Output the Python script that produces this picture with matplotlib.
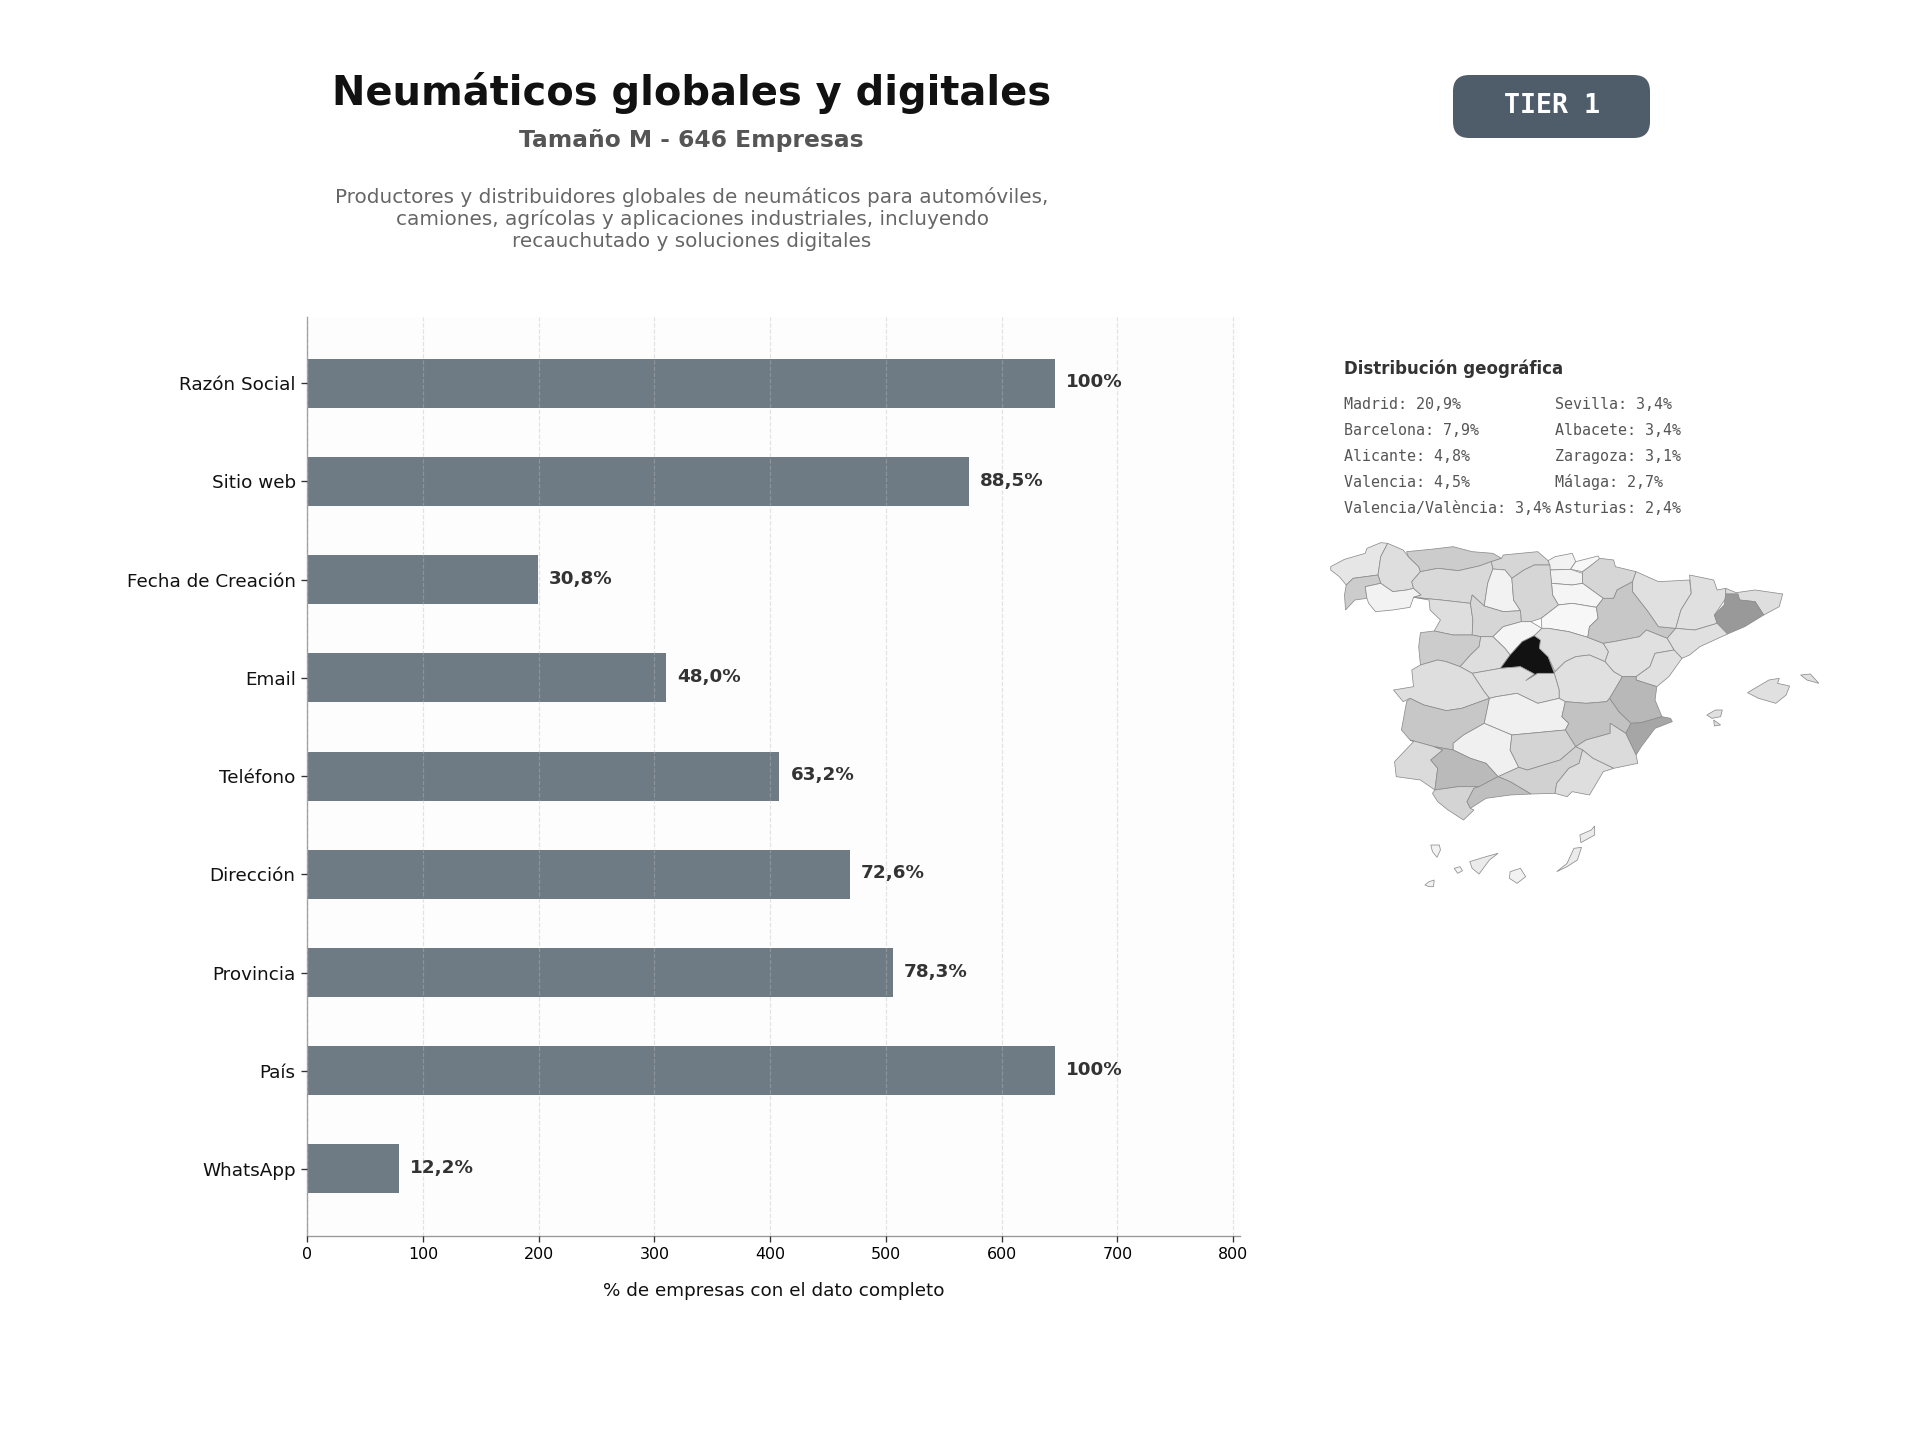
import matplotlib
matplotlib.use('Agg')
import matplotlib.pyplot as plt
from matplotlib.patches import FancyBboxPatch, Polygon

# bar data
campos = ['Razón Social', 'Sitio web', 'Fecha de Creación', 'Email', 'Teléfono',
          'Dirección', 'Provincia', 'País', 'WhatsApp']
empresas = [646, 572, 199, 310, 408, 469, 506, 646, 79]
etiquetas = ['100%', '88,5%', '30,8%', '48,0%', '63,2%', '72,6%', '78,3%', '100%', '12,2%']
xticks = [0, 100, 200, 300, 400, 500, 600, 700, 800]

# geographic list
geo_col1 = ['Madrid: 20,9%', 'Barcelona: 7,9%', 'Alicante: 4,8%', 'Valencia: 4,5%', 'Valencia/València: 3,4%']
geo_col2 = ['Sevilla: 3,4%', 'Albacete: 3,4%', 'Zaragoza: 3,1%', 'Málaga: 2,7%', 'Asturias: 2,4%']

# province outlines: name -> (grey level, outline)
provincias = {
    'A Coruña': (.90, [(60,140),(100,118),(160,100),(165,85),(205,68),(225,70),(205,110),(197,165),(125,175),(105,195),(85,170),(60,150)]),
    'Lugo': (.87, [(225,70),(270,90),(285,110),(315,140),(320,155),(295,185),(300,205),(280,210),(240,215),(205,190),(197,165),(205,110)]),
    'Pontevedra': (.80, [(105,195),(125,175),(197,165),(205,190),(160,200),(165,235),(130,240),(103,270),(100,225)]),
    'Ourense': (.95, [(160,200),(205,190),(240,215),(280,210),(300,205),(322,225),(300,232),(290,262),(240,270),(190,275),(170,250),(165,235)]),
    'Asturias': (.80, [(280,95),(350,88),(415,80),(470,95),(530,100),(555,115),(525,125),(490,138),(430,152),(370,145),(320,155),(315,140),(285,110)]),
    'Cantabria': (.84, [(525,125),(555,115),(560,105),(660,95),(690,122),(695,135),(650,135),(620,150),(585,175),(565,150),(530,147)]),
    'Bizkaia': (.95, [(690,122),(710,110),(760,100),(770,125),(755,148),(695,150),(695,135)]),
    'Gipuzkoa': (.97, [(770,125),(835,108),(840,118),(810,140),(790,155),(755,148)]),
    'Araba': (.95, [(695,150),(755,148),(790,160),(790,190),(760,195),(700,190)]),
    'Navarra': (.84, [(790,155),(810,140),(840,115),(880,120),(885,140),(945,155),(935,185),(890,210),(880,235),(850,235),(790,190),(790,160)]),
    'La Rioja': (.96, [(700,190),(760,195),(790,190),(850,235),(830,262),(760,250),(720,255),(703,225)]),
    'León': (.85, [(320,155),(370,145),(430,152),(490,138),(525,125),(530,147),(515,190),(505,258),(470,225),(465,250),(380,240),(300,232),(322,225),(300,205),(295,185)]),
    'Palencia': (.95, [(530,147),(565,150),(585,175),(590,240),(610,272),(560,275),(505,258),(515,190)]),
    'Burgos': (.84, [(585,175),(620,150),(650,135),(695,135),(700,190),(703,225),(720,255),(670,295),(640,305),(612,305),(610,272),(590,240)]),
    'Zamora': (.87, [(300,232),(380,240),(465,250),(472,300),(470,345),(415,345),(360,333),(378,300),(348,270),(345,240)]),
    'Valladolid': (.84, [(470,225),(505,258),(560,275),(610,272),(612,305),(560,320),(530,350),(495,350),(470,345),(472,300),(465,250)]),
    'Segovia': (.96, [(530,350),(560,320),(612,305),(640,305),(672,325),(650,347),(615,365),(580,405),(565,385)]),
    'Soria': (.97, [(670,295),(720,255),(760,250),(830,262),(835,295),(810,320),(805,352),(750,335),(690,325),(672,325)]),
    'Salamanca': (.80, [(320,338),(360,333),(415,345),(470,345),(495,350),(490,380),(465,405),(435,440),(395,425),(370,420),(320,435),(315,380)]),
    'Ávila': (.87, [(495,350),(530,350),(565,385),(580,405),(552,445),(470,460),(435,440),(465,405),(490,380)]),
    'Madrid': (.07, [(650,347),(668,360),(665,385),(690,410),(708,460),(660,460),(625,482),(650,462),(610,440),(552,445),(580,405),(615,365)]),
    'Guadalajara': (.87, [(672,325),(690,325),(750,335),(805,352),(850,370),(865,395),(855,425),(810,405),(770,410),(740,425),(710,455),(690,410),(665,385),(668,360),(650,347)]),
    'Zaragoza': (.78, [(880,235),(890,210),(935,185),(935,215),(980,275),(1010,320),(1060,325),(1035,355),(975,330),(955,350),(880,365),(850,370),(805,352),(810,320),(835,295),(830,262),(850,235)]),
    'Huesca': (.88, [(945,155),(1010,185),(1100,180),(1105,220),(1075,270),(1060,325),(1010,320),(980,275),(935,215),(935,185)]),
    'Lleida': (.88, [(1100,165),(1170,180),(1180,210),(1205,205),(1205,235),(1172,285),(1180,310),(1115,330),(1060,325),(1075,270),(1105,220)]),
    'Girona': (.87, [(1205,205),(1235,218),(1290,210),(1370,222),(1360,260),(1315,285),(1290,245),(1245,240),(1240,222),(1205,222)]),
    'Barcelona': (.60, [(1205,222),(1240,222),(1245,240),(1290,245),(1315,285),(1260,320),(1210,342),(1180,310),(1172,285),(1200,255)]),
    'Tarragona': (.88, [(1180,310),(1210,342),(1130,380),(1100,405),(1078,415),(1055,390),(1035,355),(1060,325),(1115,330)]),
    'Teruel': (.88, [(850,370),(880,365),(955,350),(975,330),(1035,355),(1055,390),(1000,400),(985,440),(945,470),(905,470),(880,455),(855,425),(865,395)]),
    'Castellón': (.88, [(1000,400),(1055,390),(1078,415),(1040,470),(1005,500),(945,480),(945,470),(985,440)]),
    'Valencia': (.72, [(905,470),(945,470),(945,480),(1005,500),(1000,540),(1020,590),(960,608),(930,610),(895,575),(868,535)]),
    'Alicante': (.65, [(930,610),(960,608),(1020,590),(1045,595),(1050,605),(1000,625),(960,680),(945,705),(915,640)]),
    'Cuenca': (.88, [(710,455),(740,425),(770,410),(810,405),(855,425),(880,455),(905,470),(868,535),(860,545),(800,550),(740,545),(722,535),(722,510),(708,460)]),
    'Toledo': (.88, [(470,460),(552,445),(610,440),(650,462),(625,482),(660,460),(708,460),(722,510),(722,535),(660,550),(600,520),(540,530),(520,535),(505,515)]),
    'Cáceres': (.87, [(320,435),(370,420),(395,425),(435,440),(470,460),(505,515),(520,535),(440,565),(395,572),(330,555),(290,535),(270,545),(242,510),(300,500),(295,450)]),
    'Badajoz': (.78, [(280,545),(290,535),(330,555),(395,572),(440,565),(520,535),(505,610),(445,645),(415,670),(415,690),(360,680),(290,660),(265,630)]),
    'Ciudad Real': (.94, [(520,535),(540,530),(600,520),(660,550),(722,535),(740,545),(730,590),(750,610),(740,630),(585,645),(505,610)]),
    'Albacete': (.76, [(740,545),(800,550),(860,545),(868,535),(895,575),(930,610),(915,640),(870,610),(870,640),(800,660),(770,680),(740,630),(750,610),(730,590)]),
    'Murcia': (.86, [(870,640),(870,610),(915,640),(945,705),(950,730),(880,745),(820,715),(790,690),(770,680),(800,660)]),
    'Córdoba': (.94, [(445,645),(505,610),(585,645),(580,690),(605,742),(545,770),(510,730),(465,715),(415,690),(415,670)]),
    'Jaén': (.83, [(585,645),(740,630),(770,680),(725,720),(630,750),(605,742),(580,690)]),
    'Granada': (.82, [(605,742),(630,750),(725,720),(770,680),(790,690),(780,730),(750,745),(715,790),(710,820),(640,822),(580,785),(545,770)]),
    'Almería': (.87, [(790,690),(820,715),(880,745),(850,755),(810,825),(760,815),(745,830),(710,820),(715,790),(750,745),(780,730)]),
    'Huelva': (.86, [(290,660),(360,680),(385,690),(350,720),(370,745),(362,810),(320,780),(250,770),(245,725),(300,665)]),
    'Sevilla': (.73, [(360,680),(415,690),(465,715),(510,730),(545,770),(490,800),(430,800),(362,810),(370,745),(350,720),(385,690)]),
    'Cádiz': (.83, [(362,810),(430,800),(490,800),(475,805),(455,845),(465,865),(475,870),(445,900),(400,870),(370,845),(355,820)]),
    'Málaga': (.75, [(490,800),(545,770),(580,785),(640,822),(580,825),(510,835),(465,865),(455,845),(475,805)]),
    'Mallorca': (.88, [(1268,518),(1330,480),(1360,475),(1355,490),(1390,498),(1380,525),(1350,550),(1300,535)]),
    'Menorca': (.88, [(1422,465),(1450,462),(1475,490),(1440,480)]),
    'Ibiza': (.88, [(1150,585),(1175,570),(1195,570),(1190,590),(1165,595)]),
    'Formentera': (.88, [(1170,600),(1190,615),(1172,618)]),
    'La Palma': (.95, [(350,975),(375,975),(378,990),(368,1012),(355,995)]),
    'Tenerife': (.92, [(463,1025),(510,1010),(545,1000),(520,1020),(490,1062),(470,1045)]),
    'La Gomera': (.95, [(418,1045),(435,1040),(442,1052),(428,1060)]),
    'Gran Canaria': (.95, [(580,1055),(610,1045),(625,1070),(600,1090),(578,1075)]),
    'Fuerteventura': (.92, [(715,1055),(745,1030),(765,985),(787,982),(775,1020),(745,1040)]),
    'Lanzarote': (.92, [(782,945),(815,930),(825,918),(825,945),(785,968)]),
    'El Hierro': (.95, [(333,1095),(345,1085),(360,1080),(358,1100),(345,1100)]),
}

W, H = 1920, 1440
def fx(px):
    return px / W
def fy(py):
    return 1 - py / H

fig = plt.figure(figsize=(16, 12), dpi=120, facecolor='white')

# bars
ax = fig.add_axes([fx(307.3), fy(1235.7), (1240 - 307.3) / W, (1235.7 - 317) / H])
ax.set_facecolor('#fdfdfd')
pos = list(range(len(campos)))
ax.barh(pos, empresas, height=0.5, color='#6f7b84', zorder=2)
ax.set_xlim(0, 806)
ax.set_ylim(8.68, -0.675)
ax.set_yticks(pos)
ax.set_yticklabels(campos, fontsize=11, color='#111111')
ax.set_xticks(xticks)
ax.tick_params(axis='x', labelsize=9.5, color='#333333', length=3.5, width=0.8)
ax.tick_params(axis='y', color='#333333', length=3.5, width=0.8)
ax.grid(axis='x', linestyle='--', color='#bbbbbb', alpha=0.4, linewidth=0.7, zorder=3)
ax.set_axisbelow(False)
ax.set_xlabel('% de empresas con el dato completo', fontsize=11, color='#111111', labelpad=12)
for side in ['top', 'right']:
    ax.spines[side].set_visible(False)
for side in ['left', 'bottom']:
    ax.spines[side].set_color('#999999')
for i in pos:
    ax.text(empresas[i] + 9.5, i - 0.01, etiquetas[i], va='center', ha='left',
            fontsize=11, fontweight='bold', color='#333333', zorder=4)

# header
fig.text(fx(692), fy(93), 'Neumáticos globales y digitales', ha='center', va='center',
         fontsize=24, fontweight='bold', color='#111111')
fig.text(fx(691), fy(140.5), 'Tamaño M - 646 Empresas', ha='center', va='center',
         fontsize=14, fontweight='bold', color='#555555')
fig.text(fx(692), fy(219), 'Productores y distribuidores globales de neumáticos para automóviles,\n'
         'camiones, agrícolas y aplicaciones industriales, incluyendo\n'
         'recauchutado y soluciones digitales', ha='center', va='center',
         fontsize=12, color='#666666', linespacing=1.18)

# tier badge
fig.add_artist(FancyBboxPatch((fx(1453), fy(138)), (1650 - 1453) / W, (138 - 75) / H,
                              boxstyle='round,pad=0,rounding_size=0.0085', mutation_aspect=1.33,
                              transform=fig.transFigure, facecolor='#4f5d6b', edgecolor='none'))
fig.text(fx(1552), fy(106), 'TIER 1', ha='center', va='center', fontsize=16,
         fontweight='bold', family='DejaVu Sans Mono', color='white')

# geographic text
fig.text(fx(1344), fy(369), 'Distribución geográfica', ha='left', va='center',
         fontsize=10, fontweight='bold', color='#333333')
filas_y = [404.5, 430.5, 456.5, 482.5, 508.5]
for k in range(len(filas_y)):
    fig.text(fx(1344), fy(filas_y[k]), geo_col1[k], ha='left', va='center', fontsize=9,
             family='DejaVu Sans Mono', color='#555555')
    fig.text(fx(1555), fy(filas_y[k]), geo_col2[k], ha='left', va='center', fontsize=9,
             family='DejaVu Sans Mono', color='#555555')

# map
mapa = fig.add_axes([fx(1310), fy(900), 540 / W, 380 / H])
mapa.set_xlim(0, 1565)
mapa.set_ylim(1140, 0)
mapa.axis('off')
for nombre, (gris, contorno) in provincias.items():
    mapa.add_patch(Polygon(contorno, closed=True, facecolor=str(gris), edgecolor='#8c8c8c', linewidth=0.45))

fig.savefig('out.png', dpi=120)
